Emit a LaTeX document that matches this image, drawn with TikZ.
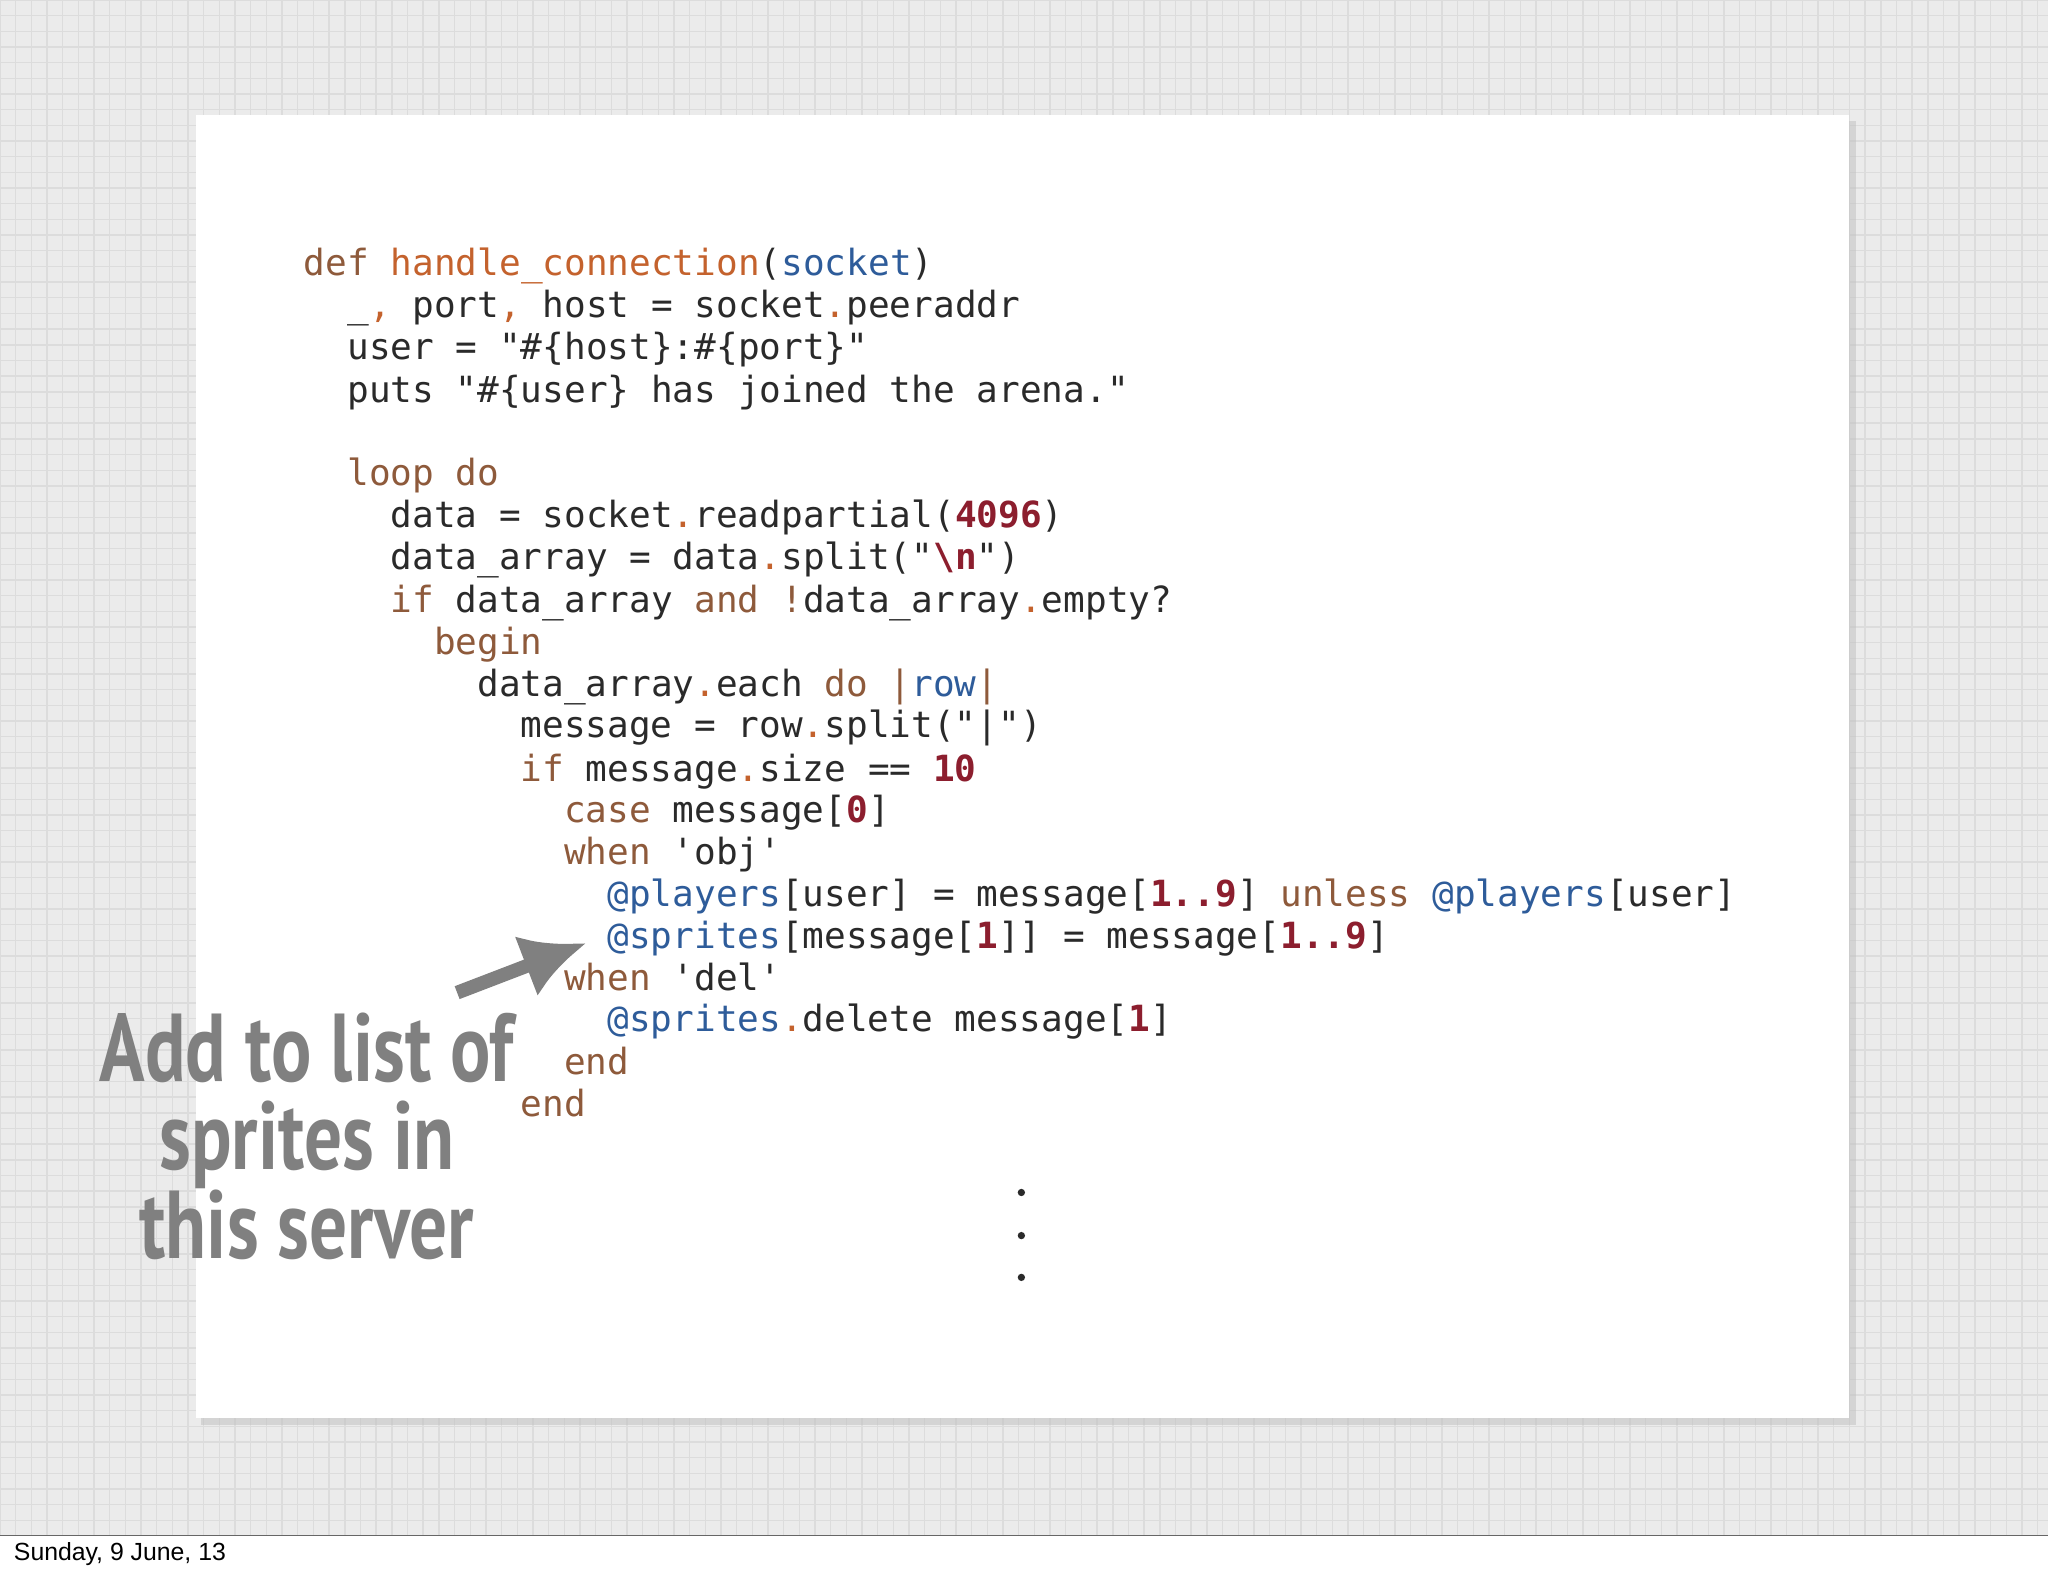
\documentclass[tikz,border=0pt]{standalone}
\usepackage{fontspec}
\usetikzlibrary{arrows.meta}
\setmonofont{DejaVu Sans Mono}
\newfontfamily\footfont{Liberation Sans}
\newfontfamily\handfont{PT Sans}
\definecolor{kwc}{HTML}{8E5A3B}
\definecolor{fnc}{HTML}{C4622D}
\definecolor{blc}{HTML}{2E5C9A}
\definecolor{nmc}{HTML}{8C1E2E}
\definecolor{txc}{HTML}{2A2A2A}
\definecolor{bgc}{HTML}{EBEBEB}
\definecolor{grc}{HTML}{DCDCDC}
\newcommand\kw[1]{\textcolor{kwc}{#1}}
\newcommand\fn[1]{\textcolor{fnc}{#1}}
\newcommand\bl[1]{\textcolor{blc}{#1}}
\newcommand\nm[1]{\textcolor{nmc}{\bfseries #1}}
\newcommand\op[1]{\textcolor{fnc}{#1}}
\begin{document}
\begin{tikzpicture}[x=0.01cm,y=-0.01cm,
  code/.style={anchor=base west,inner sep=0pt,font=\ttfamily\fontsize{7.85}{9}\selectfont,text=txc}]
\useasboundingbox (0,0) rectangle (1568,1206);
\fill[bgc] (0,0) rectangle (1568,1176);
\foreach \gx in {0,12,...,1566} \draw[grc,line width=0.3pt] (\gx,0) -- (\gx,1176);
\foreach \gy in {0,12,...,1174} \draw[grc,line width=0.3pt] (0,\gy) -- (1568,\gy);
\draw[black!60,line width=0.5pt] (0,1176) -- (1568,1176);
\fill[white] (0,1176.3) rectangle (1568,1206);
\fill[black!25,opacity=0.5] (154,93) rectangle (1421,1091);
\fill[white] (150,88) rectangle (1416,1086);
\newcommand\cl[4]{\node[code] (#1) at ({232+16.6*#2},{#3+10}) {#4};}
\cl{l0}{0}{201}{\kw{def} \fn{handle\_connection}(\bl{socket})}
\cl{l1}{2}{233}{\_\op{,} port\op{,} host = socket\op{.}peeraddr}
\cl{l2}{2}{265}{user = "\#\{host\}:\#\{port\}"}
\cl{l3}{2}{298}{puts "\#\{user\} has joined the arena."}
\cl{l4}{2}{362}{\kw{loop do}}
\cl{l5}{4}{394}{data = socket\op{.}readpartial(\nm{4096})}
\cl{l6}{4}{426}{data\_array = data\op{.}split("\nm{\textbackslash n}")}
\cl{l7}{4}{459}{\kw{if} data\_array \kw{and} \kw{!}data\_array\op{.}empty?}
\cl{l8}{6}{491}{\kw{begin}}
\cl{l9}{8}{523}{data\_array\op{.}each \kw{do} \kw{|}\bl{row}\kw{|}}
\cl{l10}{10}{555}{message = row\op{.}split("|")}
\cl{l11}{10}{588}{\kw{if} message\op{.}size == \nm{10}}
\cl{l12}{12}{620}{\kw{case} message[\nm{0}]}
\cl{l13}{12}{652}{\kw{when} 'obj'}
\cl{l14}{14}{684}{\bl{@players}[user] = message[\nm{1..9}] \kw{unless} \bl{@players}[user]}
\cl{l15}{14}{716}{\bl{@sprites}[message[\nm{1}]] = message[\nm{1..9}]}
\cl{l16}{12}{748}{\kw{when} 'del'}
\cl{l17}{14}{780}{\bl{@sprites}\op{.}delete message[\nm{1}]}
\cl{l18}{12}{813}{\kw{end}}
\cl{l19}{10}{845}{\kw{end}}
\foreach \yy in {913,946,978} \fill[txc] (782,\yy) circle (2.8);
\node[inner sep=0pt,text=black!50,align=center,font=\handfont\bfseries\fontsize{21}{19.2}\selectfont] (note) at (235,870)
  {\scalebox{0.78}[1]{Add to list of}\\\scalebox{0.78}[1]{sprites in}\\\scalebox{0.78}[1]{this server}};
\coordinate (as) at (350,760);
\coordinate (ae) at (449,722);
\draw[black!50,line width=3pt,-{Latex[length=14pt,width=14pt]}] (as) -- (ae);
\node[anchor=west,inner sep=0pt,font=\footfont\fontsize{5.4}{6}\selectfont] (foot) at (10,1190) {Sunday, 9 June, 13};
\end{tikzpicture}
\end{document}
